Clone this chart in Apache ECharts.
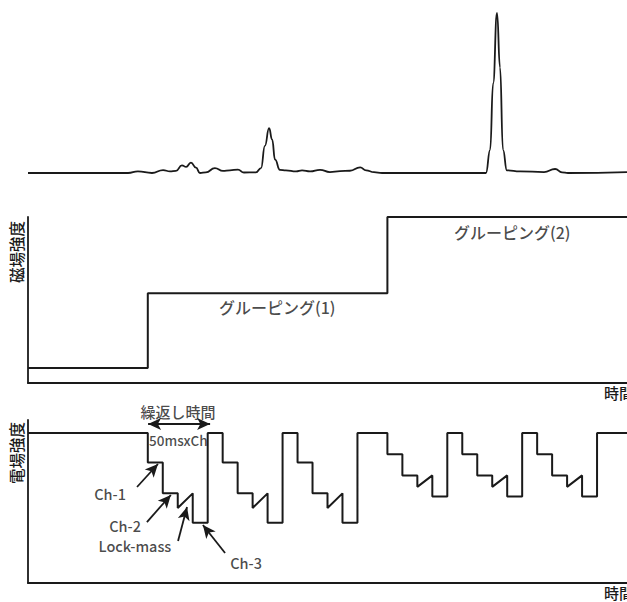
<!DOCTYPE html>
<html>
<head>
<meta charset="utf-8">
<script src="https://cdn.jsdelivr.net/npm/echarts@6/dist/echarts.min.js"></script>
<style>
  html, body { margin: 0; padding: 0; background: #fff; }
  #chart { width: 627px; height: 602px; }
</style>
</head>
<body>
<div id="chart"></div>
<script>
// Total ion trace (top): time in ms, relative intensity
const ticTimes = [0,334,367,414,451,474,494,514,528,544,561,574,594,624,651,674,701,721,761,778,791,805,815,825,841,861,895,915,942,975,1008,1042,1075,1109,1129,1155,1182,1529,1543,1553,1566,1576,1586,1599,1643,1723,1760,1783,1803,2000];
const ticIntensity = [0,0,1,0,1.8,1,1.3,4.8,3.8,6.5,3.3,0,0.4,3,1.3,1.7,2.1,0.3,0.4,3,17,28,21,8.3,2,1.7,1,1.6,1,2,0.6,1.2,1.4,3.5,1.7,0.5,0,0,14.5,56,100,66,14.5,1.7,1,0.6,2.5,0.4,0,0.6];

// Magnetic field (middle): each grouping starts at a time and holds a field level
const groupStart = [0, 400, 1200];
const groupField = [9, 54, 100];
const groupEnd = 2000;
const groupLabels = ['グルーピング(1)', 'グルーピング(2)'];
const groupLabelPos = [[832, 46], [1617, 91]];

// Electric field (bottom): vertices of the channel-switching trace
const eTimes = [0,400,400,450,450,500,500,550,550,600,
                600,650,650,700,700,750,750,800,800,850,
                850,900,900,950,950,1000,1000,1050,1050,1100,
                1100,1200,1200,1250,1250,1300,1300,1350,1350,1400,
                1400,1450,1450,1500,1500,1550,1550,1600,1600,1650,
                1650,1700,1700,1750,1750,1800,1800,1850,1850,1900,
                1900,2000];
const eField = [92,92,74,74,55,55,46,55,37,37,
                92,92,74,74,55,55,46,55,37,37,
                92,92,74,74,55,55,46,55,37,37,
                92,92,79,79,66,66,59,66,53,53,
                92,92,79,79,66,66,59,66,53,53,
                92,92,79,79,66,66,59,66,53,53,
                92,92];

// Annotation texts, their anchor points [time, field] and font sizes
const noteTexts = ['繰返し時間', '50msxCh', 'Ch-1', 'Ch-2', 'Lock-mass', 'Ch-3'];
const notePos = [[501, 105.5], [502, 87.7], [274, 55.2], [324, 35], [357, 22.7], [728, 12.3]];
const noteSizes = [15, 13.5, 14.5, 14.5, 14.5, 14.5];
// Arrows: [tail, tip]
const arrows = [
  [[364, 58.9], [434, 73]],
  [[397, 37.4], [477, 54]],
  [[501, 25.8], [531, 46.6]],
  [[658, 18.4], [584, 35.6]]
];
const repeatSpan = [[401, 97.5], [608, 97.5]];

// Axis titles
const yTitles = ['磁場強度', '電場強度'];
const xTitle = '時間';

const INK = '#1a1a1a';
const FONT = '"Noto Sans CJK JP", "Noto Sans", sans-serif';
const WEIGHT = 500;

const ticData = ticTimes.map((t, i) => [t, ticIntensity[i]]);
const magData = [];
groupStart.forEach((t, i) => {
  const next = i + 1 < groupStart.length ? groupStart[i + 1] : groupEnd;
  magData.push([t, groupField[i]], [next, groupField[i]]);
});
const eData = eTimes.map((t, i) => [t, eField[i]]);

const axisLine = { show: true, onZero: false, lineStyle: { color: INK, width: 1.8 } };
function xAx(idx, show) {
  return { gridIndex: idx, type: 'value', min: 0, max: 2000, show: show,
    axisLine: axisLine, axisTick: { show: false }, axisLabel: { show: false }, splitLine: { show: false } };
}
function yAx(idx, show) {
  return { gridIndex: idx, type: 'value', min: 0, max: 100, show: show,
    axisLine: axisLine, axisTick: { show: false }, axisLabel: { show: false }, splitLine: { show: false } };
}
const textLabel = {
  show: true, position: 'inside', color: INK, fontSize: 15, fontWeight: WEIGHT, fontFamily: FONT,
  formatter: p => p.value[2]
};

// Rotated y-axis titles (reading bottom to top) and the time titles at the right edge
const graphics = [];
const titleCentres = [252, 453];
yTitles.forEach((title, k) => {
  graphics.push({ type: 'text', x: 16, y: titleCentres[k], rotation: Math.PI / 2,
    style: { text: title, fontSize: 15.5, fontWeight: WEIGHT, fontFamily: FONT, fill: INK,
      align: 'center', verticalAlign: 'middle' } });
});
[385, 585].forEach(top => {
  graphics.push({ type: 'text', left: 604, top: top,
    style: { text: xTitle, fontSize: 15, fontWeight: WEIGHT, fontFamily: FONT, fill: INK } });
});

const chart = echarts.init(document.getElementById('chart'), null, { renderer: 'svg' });
chart.setOption({
  animation: false,
  backgroundColor: '#fff',
  grid: [
    { left: 28, width: 599, top: 13, height: 160 },
    { left: 28, width: 599, top: 217, height: 166 },
    { left: 28, width: 599, top: 420, height: 163 }
  ],
  xAxis: [xAx(0, false), xAx(1, true), xAx(2, true)],
  yAxis: [yAx(0, false), yAx(1, true), yAx(2, true)],
  series: [
    { type: 'line', xAxisIndex: 0, yAxisIndex: 0, data: ticData, showSymbol: false,
      smooth: 0.5, smoothMonotone: 'x', clip: false,
      lineStyle: { color: INK, width: 1.8 } },
    { type: 'line', xAxisIndex: 1, yAxisIndex: 1, data: magData, showSymbol: false, clip: false,
      lineStyle: { color: INK, width: 2 } },
    { type: 'scatter', xAxisIndex: 1, yAxisIndex: 1, symbolSize: 1, clip: false,
      itemStyle: { color: 'transparent' }, label: Object.assign({}, textLabel, { fontSize: 16 }),
      data: groupLabels.map((s, i) => [groupLabelPos[i][0], groupLabelPos[i][1], s]) },
    { type: 'line', xAxisIndex: 2, yAxisIndex: 2, data: eData, showSymbol: false, clip: false,
      lineStyle: { color: INK, width: 2 },
      markLine: {
        silent: true, animation: false,
        symbol: ['none', 'arrow'], symbolSize: [9, 13],
        lineStyle: { color: INK, width: 1.8, type: 'solid' },
        label: { show: false },
        data: arrows.map(a => [{ coord: a[0] }, { coord: a[1] }]).concat([
          [{ coord: repeatSpan[0], symbol: 'arrow' }, { coord: repeatSpan[1], symbol: 'arrow' }]
        ])
      } },
    { type: 'scatter', xAxisIndex: 2, yAxisIndex: 2, symbolSize: 1, clip: false,
      itemStyle: { color: 'transparent' },
      data: noteTexts.map((s, i) => ({
        value: [notePos[i][0], notePos[i][1], s],
        label: Object.assign({}, textLabel, { fontSize: noteSizes[i] })
      })) }
  ],
  graphic: graphics
});
</script>
</body>
</html>
